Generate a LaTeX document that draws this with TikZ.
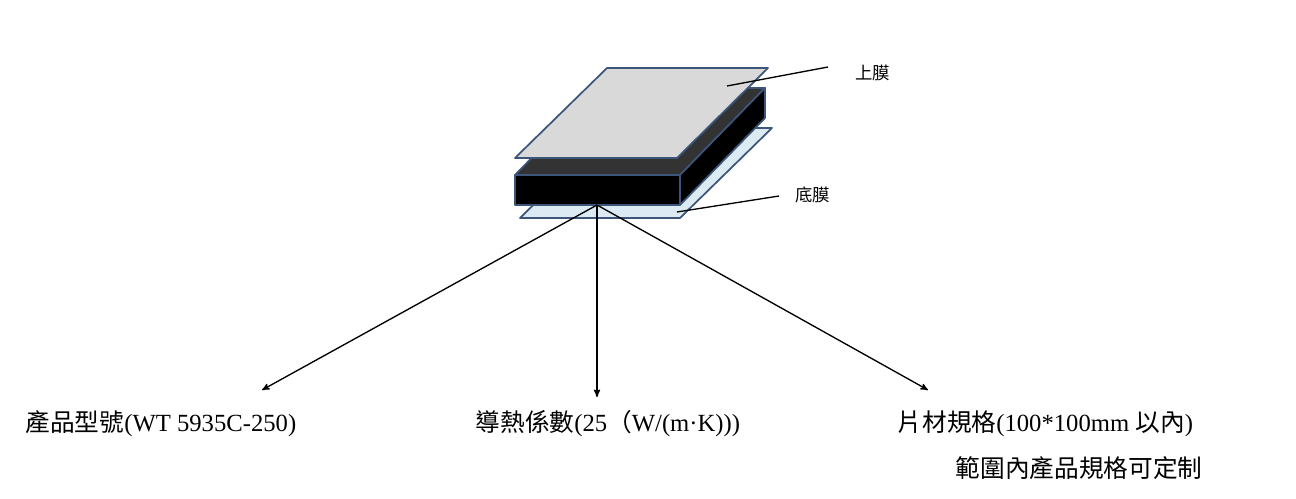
\documentclass[tikz,border=0pt]{standalone}
\usepackage{fontspec}
\setmainfont{Liberation Serif}
\newfontfamily\cjk{Noto Sans CJK TC}
\usepackage{tikz}
\usetikzlibrary{arrows}
\definecolor{edgeblue}{RGB}{60,85,120}
\definecolor{topgray}{RGB}{217,217,217}
\definecolor{botblue}{RGB}{220,235,243}
\begin{document}
\begin{tikzpicture}[x=0.75pt,y=-0.75pt,line width=1pt]
\tikzset{sheet/.style={draw=edgeblue, line width=1.3pt, line join=round},
  arr/.style={->,>=stealth',line width=1pt},
  lbl/.style={font=\fontsize{18.5}{22}\selectfont, anchor=west, inner sep=0pt}}
\useasboundingbox (0,0) rectangle (1296,499);
% bottom film
\draw[sheet, fill=botblue] (520,218) -- (680,218) -- (772,128) -- (612,128) -- cycle;
% black core
\draw[sheet, fill=black!80] (515,175) -- (680,175) -- (765,88) -- (600,88) -- cycle;
\draw[sheet, fill=black] (680,175) -- (765,88) -- (765,118) -- (680,205) -- cycle;
\draw[sheet, fill=black] (515,175) rectangle (680,205);
% top film
\draw[sheet, fill=topgray] (607,68) -- (768,68) -- (677,158) -- (515,158) -- cycle;
% callouts
\coordinate (topend) at (828,67);
\coordinate (botend) at (779,196);
\node[anchor=west, font=\cjk\fontsize{13}{15}\selectfont] (toplbl) at (850,73) {上膜};
\node[anchor=west, font=\cjk\fontsize{13}{15}\selectfont] (botlbl) at (790,195) {底膜};
\draw (727,86) -- (topend);
\draw (677,212) -- (botend);
% arrows
\coordinate (src) at (597,205);
\node[lbl] (model) at (25,424) {{\cjk 產品型號}(WT 5935C-250)};
\node[lbl] (cond) at (475,424) {{\cjk 導熱係數}(25{\cjk （}W/(m·K)))};
\node[lbl] (size) at (897,424) {{\cjk 片材規格}(100*100mm {\cjk 以內})};
\node[lbl] (size2) at (955,468) {\cjk 範圍內產品規格可定制};
\coordinate (a1) at (262,390);
\coordinate (a2) at (597,397);
\coordinate (a3) at (928,390);
\draw[arr] (src) -- (a1);
\draw[arr] (src) -- (a2);
\draw[arr] (src) -- (a3);
\end{tikzpicture}
\end{document}
